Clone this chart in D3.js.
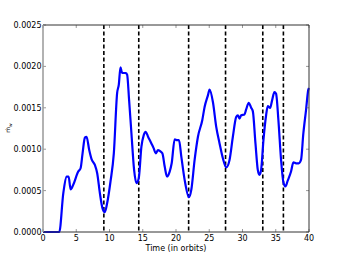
<!DOCTYPE html>
<html><head><meta charset="utf-8">
<script src="https://cdn.jsdelivr.net/npm/d3@7"></script>
<style>body{margin:0;background:#fff}svg{display:block}text{font-family:"DejaVu Sans",sans-serif}</style>
</head><body><svg id="c" width="344" height="258"></svg>
<script>
const timeOrbits = [0,2.45,3.05,3.55,3.85,4.15,4.55,5.3,5.65,5.95,6.3,6.55,6.95,7.3,7.8,8.15,8.55,8.95,9.3,9.65,10.15,10.65,11.15,11.4,11.65,11.85,12.05,12.45,12.65,12.95,13.3,13.7,14.05,14.4,14.8,15.15,15.45,15.8,16.3,16.65,16.95,17.3,17.55,17.95,18.3,18.65,19.05,19.35,19.8,20.15,20.45,20.8,21.3,21.95,22.3,22.8,23.3,23.95,24.3,24.8,25.05,25.55,26.05,26.55,27.05,27.55,28.05,28.55,29.05,29.3,29.55,29.8,30.3,30.55,30.95,31.3,31.55,31.95,32.3,32.55,32.8,33.15,33.55,33.8,34.15,34.45,34.8,35.05,35.4,35.8,36.15,36.45,36.8,37.3,37.65,38.05,38.45,38.8,39.15,39.55,39.9,40];
const mdotW = [0,0,0.000467,0.000668,0.00067,0.000515,0.00057,0.00073,0.00077,0.00095,0.00114,0.00115,0.00099,0.00088,0.00081,0.00071,0.00047,0.000286,0.00024,0.00035,0.00061,0.00095,0.00168,0.00178,0.00199,0.00193,0.00192,0.00192,0.0019,0.00159,0.00119,0.00075,0.00059,0.00065,0.00103,0.00117,0.00121,0.00115,0.00107,0.00101,0.00095,0.00099,0.00098,0.00095,0.00079,0.00067,0.00073,0.00083,0.00112,0.00111,0.00111,0.00091,0.00063,0.00042,0.00051,0.00087,0.00115,0.00135,0.00151,0.00165,0.00172,0.00157,0.00127,0.00107,0.00089,0.00078,0.00087,0.00115,0.00139,0.00141,0.00137,0.00141,0.00142,0.00148,0.00156,0.0015,0.00146,0.00107,0.00075,0.00069,0.00075,0.00111,0.00141,0.00152,0.0015,0.00159,0.00169,0.00167,0.00135,0.00087,0.0006,0.00055,0.00062,0.00073,0.00084,0.00083,0.00083,0.00087,0.00119,0.00147,0.00172,0.00174];
const dashedTimes = [9.15,14.4,21.9,27.45,33.05,36.15];
const xTicks = [0,5,10,15,20,25,30,35,40];
const yTicks = [0,0.0005,0.0010,0.0015,0.0020,0.0025];

const svg = d3.select("#c");
const L=43,R=309,T=25,B=232;
const x = d3.scaleLinear().domain([0,40]).range([L,R]);
const y = d3.scaleLinear().domain([0,0.0025]).range([B,T]);

svg.selectAll(".dl").data(dashedTimes).enter().append("line")
  .attr("x1",d=>x(d)).attr("x2",d=>x(d)).attr("y1",T).attr("y2",B)
  .attr("stroke","#000").attr("stroke-width",1.6).attr("stroke-dasharray","4,2.5");

const line = d3.line().x((d,i)=>x(timeOrbits[i])).y(d=>y(d)).curve(d3.curveMonotoneX);
svg.append("path").datum(mdotW).attr("d",line).attr("fill","none")
  .attr("stroke","#0000ff").attr("stroke-width",2.2).attr("stroke-linejoin","round");

const tc="#555";
xTicks.forEach(t=>{
  svg.append("line").attr("x1",x(t)).attr("x2",x(t)).attr("y1",B).attr("y2",B-3).attr("stroke",tc).attr("stroke-width",0.6);
  svg.append("line").attr("x1",x(t)).attr("x2",x(t)).attr("y1",T).attr("y2",T+3).attr("stroke",tc).attr("stroke-width",0.6);
  svg.append("text").attr("x",x(t)).attr("y",B+9).attr("text-anchor","middle").attr("font-size",8).attr("fill","#000").text(d3.format("d")(t));
});
yTicks.forEach(t=>{
  svg.append("line").attr("x1",L).attr("x2",L+3).attr("y1",y(t)).attr("y2",y(t)).attr("stroke",tc).attr("stroke-width",0.6);
  svg.append("line").attr("x1",R).attr("x2",R-3).attr("y1",y(t)).attr("y2",y(t)).attr("stroke",tc).attr("stroke-width",0.6);
  svg.append("text").attr("x",L-1.5).attr("y",y(t)+3).attr("text-anchor","end").attr("font-size",8).attr("fill","#000").text(d3.format(".4f")(t));
});

svg.append("line").attr("x1",L).attr("x2",R).attr("y1",T).attr("y2",T).attr("stroke","#333").attr("stroke-width",1);
svg.append("line").attr("x1",L).attr("x2",R).attr("y1",B).attr("y2",B).attr("stroke","#333").attr("stroke-width",1);
svg.append("line").attr("x1",R).attr("x2",R).attr("y1",T).attr("y2",B).attr("stroke","#333").attr("stroke-width",1);
svg.append("line").attr("x1",L).attr("x2",L).attr("y1",T).attr("y2",B).attr("stroke","#999").attr("stroke-width",1.5);

svg.append("text").attr("x",(L+R)/2).attr("y",251).attr("text-anchor","middle").attr("font-size",8).text("Time (in orbits)");
const yl = svg.append("text").attr("transform","translate(10,128) rotate(-90)").attr("text-anchor","middle").attr("font-size",6).attr("fill","#000");
yl.append("tspan").text("ṁ");
yl.append("tspan").attr("font-size",4.5).attr("dy",1.5).text("w");
</script></body></html>
